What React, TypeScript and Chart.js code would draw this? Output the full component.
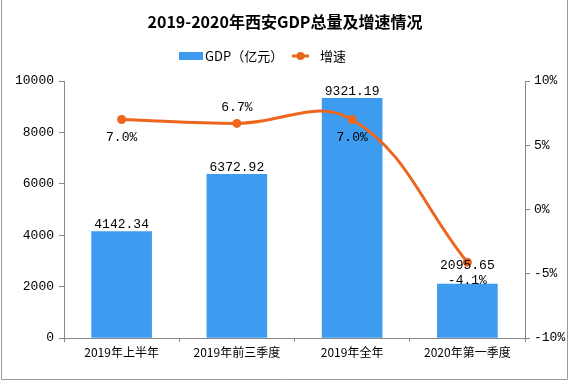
import React, { useEffect, useRef } from "react";
import { Chart, registerables } from "chart.js";

Chart.register(...registerables);

const categories = ["2019年上半年", "2019年前三季度", "2019年全年", "2020年第一季度"];
const gdpValues = [4142.34, 6372.92, 9321.19, 2095.65];
const growthValues = [7.0, 6.7, 7.0, -4.1];
const gdpTicks = [0, 2000, 4000, 6000, 8000, 10000];
const pctTicks = [-10, -5, 0, 5, 10];
const titleText = "2019-2020年西安GDP总量及增速情况";
const gdpLabel = "GDP（亿元）";
const growthLabel = "增速";

const BAR_COLOR = "#3D9CF0";
const LINE_COLOR = "#EE661E";
const AXIS_COLOR = "#888888";
const MONO = "'Liberation Mono', 'DejaVu Sans Mono', monospace";
const CJK = "'Noto Sans CJK SC', 'Noto Sans', sans-serif";

const overlayPlugin = {
  id: "overlay",
  afterDraw(chart: any) {
    const ctx = chart.ctx as CanvasRenderingContext2D;
    const W = chart.width;
    const H = chart.height;
    ctx.save();
    // frame
    ctx.strokeStyle = "#999999";
    ctx.lineWidth = 1;
    ctx.beginPath();
    ctx.moveTo(1.5, 0);
    ctx.lineTo(1.5, H - 1.5);
    ctx.lineTo(W - 2.5, H - 1.5);
    ctx.lineTo(W - 2.5, 0);
    ctx.stroke();

    // title
    ctx.fillStyle = "#000";
    ctx.font = `bold 16px ${CJK}`;
    ctx.textAlign = "center";
    ctx.textBaseline = "middle";
    ctx.fillText(titleText, W / 2, 22);

    // legend
    ctx.font = `13px ${CJK}`;
    ctx.textAlign = "left";
    const ly = 56;
    ctx.fillStyle = BAR_COLOR;
    ctx.fillRect(179, ly - 4, 24, 8);
    ctx.fillStyle = "#000";
    ctx.fillText(gdpLabel, 205, ly);
    ctx.strokeStyle = LINE_COLOR;
    ctx.lineWidth = 3;
    ctx.beginPath();
    ctx.moveTo(292, ly);
    ctx.lineTo(309, ly);
    ctx.stroke();
    ctx.fillStyle = LINE_COLOR;
    ctx.beginPath();
    ctx.arc(300.5, ly, 4, 0, Math.PI * 2);
    ctx.fill();
    ctx.fillStyle = "#000";
    ctx.fillText(growthLabel, 320, ly);

    // data labels
    const xs = chart.scales.x;
    const ys = chart.scales.y;
    const y1 = chart.scales.y1;
    ctx.font = `13px ${MONO}`;
    ctx.textAlign = "center";
    ctx.fillStyle = "#000";
    gdpValues.forEach((v, i) => {
      const x = xs.getPixelForValue(i);
      let y = ys.getPixelForValue(v) - 7;
      if (i === 3) y -= 12;
      ctx.fillText(v.toFixed(2), x, y);
    });
    const pctPlace = ["below", "above", "below", "below"];
    growthValues.forEach((v, i) => {
      const x = xs.getPixelForValue(i);
      const py = y1.getPixelForValue(v);
      const y = pctPlace[i] === "above" ? py - 16 : py + 18;
      ctx.fillText(v.toFixed(1) + "%", x, y);
    });
    ctx.restore();
  },
};

export default function App() {
  const ref = useRef<HTMLCanvasElement>(null);
  useEffect(() => {
    if (!ref.current) return;
    const chart = new Chart(ref.current, {
      type: "bar",
      data: {
        labels: categories,
        datasets: [
          {
            type: "line",
            label: growthLabel,
            data: growthValues,
            yAxisID: "y1",
            borderColor: LINE_COLOR,
            backgroundColor: LINE_COLOR,
            borderWidth: 3,
            pointRadius: 4.5,
            pointBackgroundColor: LINE_COLOR,
            pointBorderWidth: 0,
            tension: 0.4,
            order: 0,
          } as any,
          {
            type: "bar",
            label: gdpLabel,
            data: gdpValues,
            yAxisID: "y",
            backgroundColor: BAR_COLOR,
            barThickness: 60,
            order: 1,
          },
        ],
      },
      options: {
        responsive: false,
        animation: false,
        layout: { padding: { top: 81, left: 0, right: 0, bottom: 0 } },
        plugins: { legend: { display: false }, title: { display: false }, tooltip: { enabled: false } },
        scales: {
          x: {
            offset: true,
            grid: { display: true, drawOnChartArea: false, offset: true, color: AXIS_COLOR, tickLength: 4 },
            border: { color: AXIS_COLOR },
            ticks: { color: "#000", font: { family: CJK, size: 12 }, padding: 3, maxRotation: 0 },
            afterFit: (s: any) => { s.height = 43; },
          },
          y: {
            position: "left",
            min: 0,
            max: 10000,
            afterBuildTicks: (s: any) => { s.ticks = gdpTicks.map((v) => ({ value: v })); },
            grid: { display: true, drawOnChartArea: false, color: AXIS_COLOR, tickLength: 5 },
            border: { color: AXIS_COLOR },
            ticks: { color: "#000", font: { family: MONO, size: 13 }, padding: 5, callback: (v: any) => String(v) },
            afterFit: (s: any) => { s.width = 64; },
          },
          y1: {
            position: "right",
            min: -10,
            max: 10,
            afterBuildTicks: (s: any) => { s.ticks = pctTicks.map((v) => ({ value: v })); },
            grid: { display: true, drawOnChartArea: false, color: AXIS_COLOR, tickLength: 5 },
            border: { color: AXIS_COLOR },
            ticks: { color: "#000", font: { family: MONO, size: 13 }, padding: 4, callback: (v: any) => v + "%" },
            afterFit: (s: any) => { s.width = 45; },
          },
        },
      },
      plugins: [overlayPlugin],
    });
    return () => chart.destroy();
  }, []);
  return (
    <div style={{ position: "absolute", left: 0, top: 0, width: 570, height: 381, background: "#fff" }}>
      <canvas ref={ref} width={570} height={381} />
    </div>
  );
}
